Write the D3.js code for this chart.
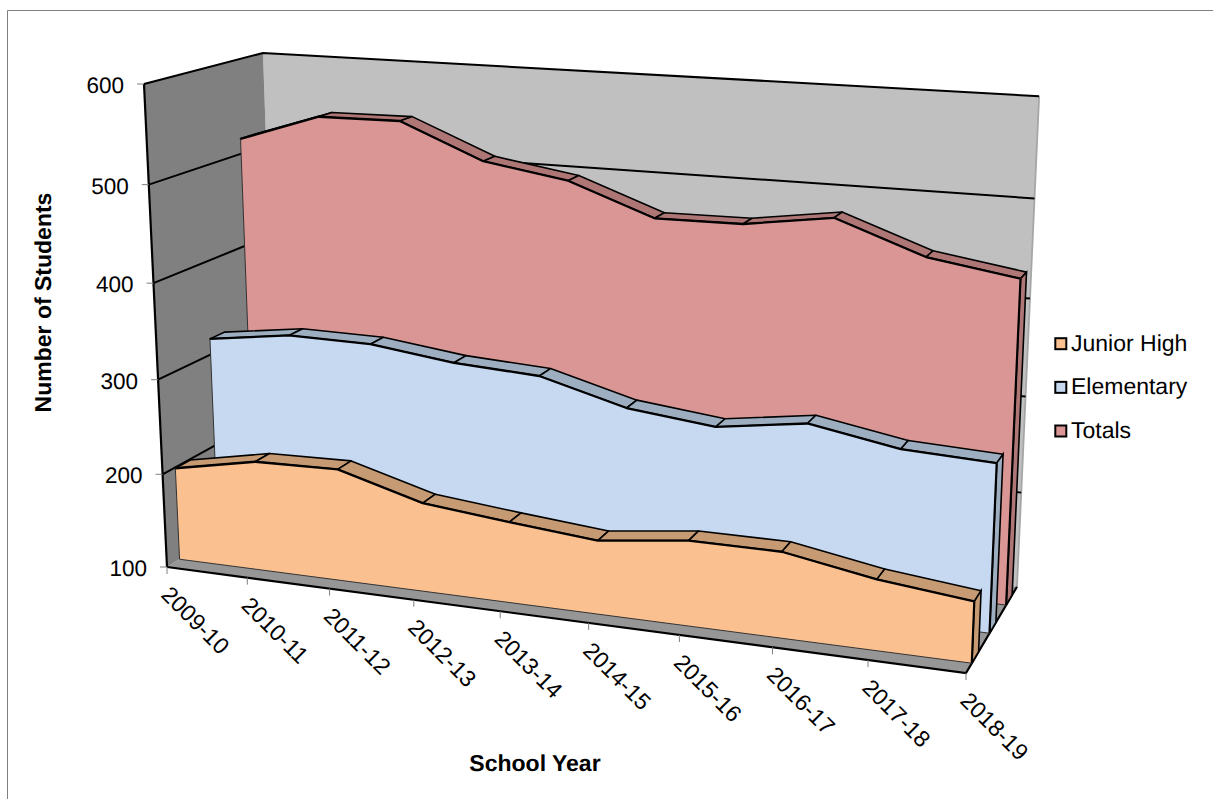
<!DOCTYPE html>
<html>
<head>
<meta charset="utf-8">
<title>Enrollment by School Year</title>
<script src="https://cdn.jsdelivr.net/npm/d3@7/dist/d3.min.js"></script>
<style>
  html, body { margin: 0; padding: 0; background: #fff; overflow: hidden; }
  svg { display: block; }
  text { font-family: "Liberation Sans", Arial, sans-serif; fill: #000; text-rendering: geometricPrecision; }
</style>
</head>
<body>
<svg id="chart" width="1213" height="799"></svg>
<script>
// Enrollment figures per school year
const schoolYears = ["2009-10","2010-11","2011-12","2012-13","2013-14","2014-15","2015-16","2016-17","2017-18","2018-19"];
const juniorHigh = [199,216,218,193,184,176,187,187,171,161];
const elementary = [317,329,328,317,312,288,278,291,275,271];
const totals = [516,545,546,510,496,464,465,478,446,432];
const valueTicks = [100,200,300,400,500,600];
const seriesNames = ["Junior High","Elementary","Totals"];
const seriesValues = [juniorHigh, elementary, totals];
const faceColors = ["#FAC090","#C6D9F1","#D99694"];
const edgeColors = ["#C69A72","#9EAEC1","#AE7776"];

// Normalised box coordinates for the three chart axes
const xScale = d3.scalePoint().domain(schoolYears).range([0, 1]);
const yScale = d3.scaleLinear().domain([100, 600]).range([0, 1]);
const zScale = d3.scaleBand().domain(seriesNames).range([0, 1])
  .paddingInner(0.625).paddingOuter(0.3125);

// Perspective camera: three box edges from the front-left floor corner plus a depth weight per axis
const corner = { o: [167, 567], x: [966, 673], y: [144, 84], z: [278.6, 497.8] };
const weight = { x: -0.106, y: -0.05, z: 0.0894 };

function project(u, v, w) {
  const n = [0, 1].map(k =>
    corner.o[k]
    + u * ((1 + weight.x) * corner.x[k] - corner.o[k])
    + v * ((1 + weight.y) * corner.y[k] - corner.o[k])
    + w * ((1 + weight.z) * corner.z[k] - corner.o[k]));
  const d = 1 + weight.x * u + weight.y * v + weight.z * w;
  return [n[0] / d, n[1] / d];
}

const svg = d3.select("#chart");
const line = d3.line();
const closed = pts => line(pts) + "Z";

// Outer chart frame, open past the right and bottom of the page
svg.append("path")
  .attr("d", "M7.5,799V10.5H1213")
  .attr("fill", "none").attr("stroke", "#7f7f7f").attr("stroke-width", 1);

// Walls and floor
const walls = svg.append("g");
walls.append("path")
  .attr("d", closed([project(0,0,1), project(1,0,1), project(1,1,1), project(0,1,1)]))
  .attr("fill", "#C0C0C0");
walls.append("path")
  .attr("d", closed([project(0,0,0), project(0,0,1), project(0,1,1), project(0,1,0)]))
  .attr("fill", "#808080");
walls.append("path")
  .attr("d", closed([project(0,0,0), project(1,0,0), project(1,0,1), project(0,0,1)]))
  .attr("fill", "#969696");

// Right edge of the back wall
walls.append("path")
  .attr("d", line([project(1,0,1), project(1,1,1)]))
  .attr("fill", "none").attr("stroke", "#a6a6a6").attr("stroke-width", 1.8);

// Gridlines on the left wall and the back wall
const grid = svg.append("g").attr("fill", "none").attr("stroke", "#000").attr("stroke-width", 2);
valueTicks.forEach(t => {
  const v = yScale(t);
  if (t === 100) return;
  grid.append("path").attr("d", line([project(0,v,0), project(0,v,1), project(1,v,1)]));
});

// Box outline: left wall front edge and the front and right floor edges
const outline = svg.append("g").attr("fill", "none").attr("stroke", "#000").attr("stroke-width", 2.2);
outline.append("path").attr("d", line([project(0,1,0), project(0,0,0)]));
outline.append("path").attr("d", line([project(0,0,0), project(1,0,0), project(1,0,1)]));

// One slab per series, back to front
[2, 1, 0].forEach(s => {
  const name = seriesNames[s];
  const values = seriesValues[s];
  const zFront = zScale(name);
  const zBack = zFront + zScale.bandwidth();
  const g = svg.append("g");
  const top = (i, w) => project(xScale(schoolYears[i]), yScale(values[i]), w);

  // Sloped top surface, one quad per year interval
  g.selectAll("path.top").data(d3.range(values.length - 1)).join("path")
    .attr("class", "top")
    .attr("d", i => closed([top(i, zFront), top(i + 1, zFront), top(i + 1, zBack), top(i, zBack)]))
    .attr("fill", edgeColors[s]).attr("stroke", "#000").attr("stroke-width", 1.6).attr("stroke-linejoin", "round");

  // Right-hand end of the slab
  const last = values.length - 1;
  g.append("path")
    .attr("d", closed([project(1,0,zFront), top(last, zFront), top(last, zBack), project(1,0,zBack)]))
    .attr("fill", edgeColors[s]).attr("stroke", "#000").attr("stroke-width", 1.6);

  // Front face
  const outlinePts = schoolYears.map((y, i) => top(i, zFront));
  g.append("path")
    .attr("d", closed([project(0,0,zFront), ...outlinePts, project(1,0,zFront)]))
    .attr("fill", faceColors[s]);
  g.append("path")
    .attr("d", line([project(0,0,zFront), outlinePts[0]]) + line([project(0,0,zFront), project(1,0,zFront)]))
    .attr("fill", "none").attr("stroke", "#333").attr("stroke-width", 1);
  g.append("path")
    .attr("d", line(outlinePts))
    .attr("fill", "none").attr("stroke", "#000").attr("stroke-width", 2.3).attr("stroke-linejoin", "round");
  g.append("path")
    .attr("d", line([outlinePts[last], project(1,0,zFront)]))
    .attr("fill", "none").attr("stroke", "#000").attr("stroke-width", 2.2);
});

// Value axis
const yAxis = svg.append("g");
valueTicks.forEach(t => {
  const p = project(0, yScale(t), 0);
  yAxis.append("line")
    .attr("x1", p[0] - 7).attr("x2", p[0]).attr("y1", p[1]).attr("y2", p[1])
    .attr("stroke", "#7f7f7f").attr("stroke-width", 1);
  yAxis.append("text")
    .attr("x", p[0] - 20).attr("y", p[1] + 9)
    .attr("text-anchor", "end").attr("font-size", 22.5).text(t);
});

// Year axis with slanted labels
const xAxis = svg.append("g");
schoolYears.forEach(y => {
  const p = project(xScale(y), 0, 0);
  xAxis.append("line")
    .attr("x1", p[0]).attr("x2", p[0]).attr("y1", p[1]).attr("y2", p[1] + 7)
    .attr("stroke", "#7f7f7f").attr("stroke-width", 1);
  xAxis.append("text")
    .attr("transform", `translate(${p[0] - 7},${p[1] + 29}) rotate(45)`)
    .attr("font-size", 23).text(y);
});

// Axis titles
svg.append("text")
  .attr("transform", "translate(50.5,302.5) rotate(-90)")
  .attr("text-anchor", "middle").attr("font-size", 23).attr("font-weight", "bold")
  .text("Number of Students");
svg.append("text")
  .attr("x", 535).attr("y", 771)
  .attr("text-anchor", "middle").attr("font-size", 23).attr("font-weight", "bold")
  .text("School Year");

// Legend
const legendY = d3.scalePoint().domain(seriesNames).range([343.7, 431]);
seriesNames.forEach((name, i) => {
  const cy = legendY(name);
  svg.append("rect")
    .attr("x", 1055.3).attr("y", cy - 5.5).attr("width", 11).attr("height", 11)
    .attr("fill", faceColors[i]).attr("stroke", "#000").attr("stroke-width", 2);
  svg.append("text")
    .attr("x", 1071).attr("y", cy + 7)
    .attr("font-size", 23).text(name);
});
</script>
</body>
</html>
